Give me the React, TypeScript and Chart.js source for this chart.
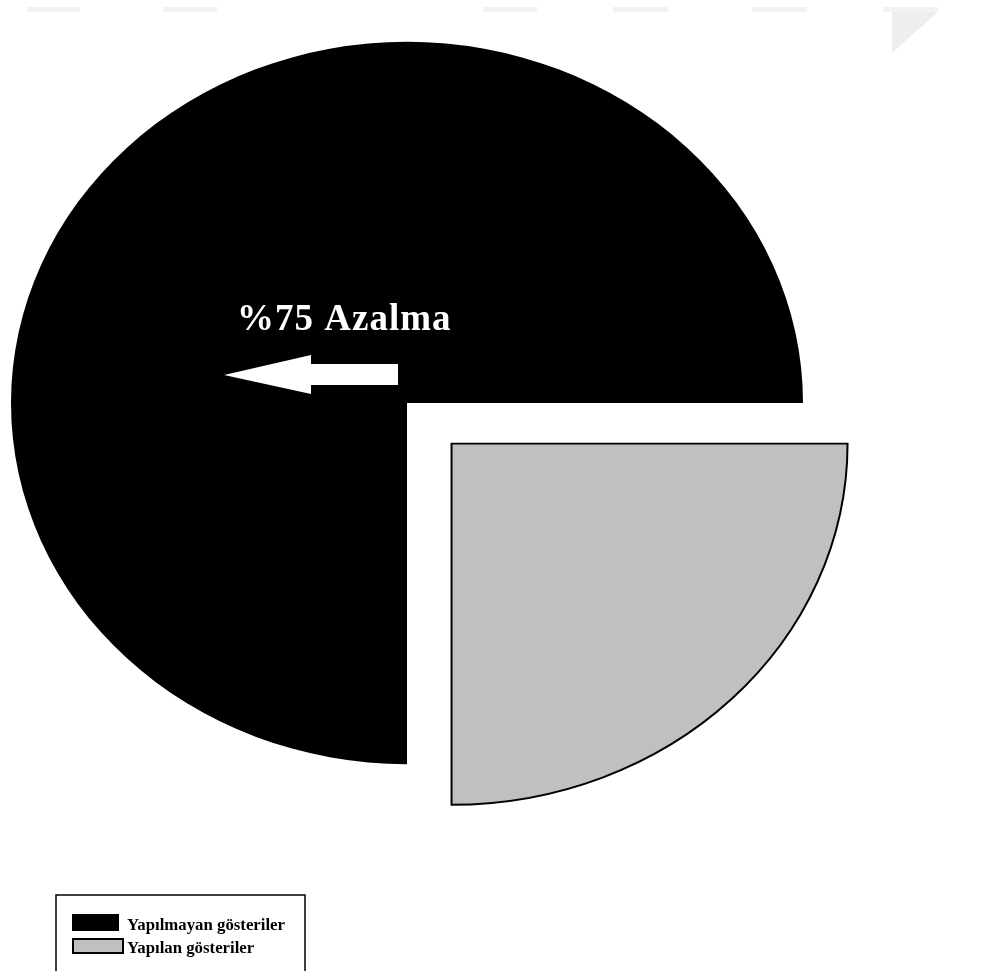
import React, { useEffect, useRef } from "react";
import { Chart, registerables } from "chart.js";

Chart.register(...registerables);

const categories = ["Yapılmayan gösteriler", "Yapılan gösteriler"];
const values = [75, 25];
const colors = ["#000000", "#c0c0c0"];
const annotationText = "%75 Azalma";

const CX = 407;
const CY = 403;
const R = 396;
const SY = 0.912;

const ellipsePlugin = {
  id: "ellipse",
  beforeDatasetsDraw(chart: any) {
    const ctx = chart.ctx;
    ctx.save();
    ctx.translate(0, CY);
    ctx.scale(1, SY);
    ctx.translate(0, -CY);
  },
  afterDatasetsDraw(chart: any) {
    chart.ctx.restore();
  },
};

const watermarkPlugin = {
  id: "watermark",
  beforeDraw(chart: any) {
    const ctx = chart.ctx;
    ctx.save();
    ctx.fillStyle = "#f2f2f2";
    const bars = [
      [27, 80],
      [163, 217],
      [483, 537],
      [613, 668],
      [752, 807],
      [883, 938],
    ];
    bars.forEach(([a, b]) => ctx.fillRect(a, 7, b - a, 5));
    ctx.fillStyle = "#eeeeee";
    ctx.beginPath();
    ctx.moveTo(892, 12);
    ctx.lineTo(938, 12);
    ctx.lineTo(892, 53);
    ctx.closePath();
    ctx.fill();
    ctx.restore();
  },
};

const annotationPlugin = {
  id: "annot",
  afterDraw(chart: any) {
    const ctx = chart.ctx;
    ctx.save();
    // text
    ctx.fillStyle = "#ffffff";
    ctx.font = "bold 37px 'Liberation Serif', 'Times New Roman', serif";
    (ctx as any).letterSpacing = "1px";
    ctx.textBaseline = "alphabetic";
    ctx.textAlign = "left";
    ctx.fillText(annotationText, 237, 330);
    (ctx as any).letterSpacing = "0px";
    // arrow
    ctx.beginPath();
    ctx.moveTo(224, 375);
    ctx.lineTo(311, 355);
    ctx.lineTo(311, 364);
    ctx.lineTo(398, 364);
    ctx.lineTo(398, 385);
    ctx.lineTo(311, 385);
    ctx.lineTo(311, 394);
    ctx.closePath();
    ctx.fill();

    // legend box
    ctx.strokeStyle = "#000";
    ctx.lineWidth = 1.5;
    ctx.fillStyle = "#fff";
    ctx.fillRect(56, 895, 249, 90);
    ctx.strokeRect(56, 895, 249, 90);
    ctx.font = "bold 16.8px 'Liberation Serif', 'Times New Roman', serif";
    const rows = [
      { y: 914, h: 17, w: 47 },
      { y: 938, h: 16, w: 51 },
    ];
    categories.forEach((c, i) => {
      const r = rows[i];
      ctx.fillStyle = colors[i];
      ctx.fillRect(72, r.y, r.w, r.h);
      if (i === 1) {
        ctx.lineWidth = 2;
        ctx.strokeStyle = "#000";
        ctx.strokeRect(73, r.y + 1, r.w - 1, r.h - 2);
      }
      ctx.fillStyle = "#000";
      ctx.fillText(c, 127, r.y + r.h - 1);
    });
    ctx.restore();
  },
};

export default function App() {
  const ref = useRef<HTMLCanvasElement | null>(null);
  useEffect(() => {
    if (!ref.current) return;
    const chart = new Chart(ref.current, {
      type: "pie",
      data: {
        labels: categories,
        datasets: [
          {
            data: values,
            backgroundColor: colors,
            borderColor: ["#000000", "#000000"],
            borderWidth: [0, 2],
            borderJoinStyle: "miter",
            offset: [0, 252],
            radius: R,
            clip: false,
          } as any,
        ],
      },
      options: {
        animation: false,
        responsive: false,
        rotation: 180,
        layout: {
          padding: { left: 0, top: 0, right: 1000 - 2 * CX, bottom: 971 - 2 * CY },
        },
        plugins: {
          legend: { display: false },
          tooltip: { enabled: false },
          title: { display: false },
        },
        events: [],
      },
      plugins: [watermarkPlugin, ellipsePlugin, annotationPlugin],
    });
    return () => chart.destroy();
  }, []);
  return (
    <div style={{ position: "absolute", left: 0, top: 0, width: 1000, height: 971, background: "#fff" }}>
      <canvas ref={ref} width={1000} height={971} style={{ display: "block" }} />
    </div>
  );
}
